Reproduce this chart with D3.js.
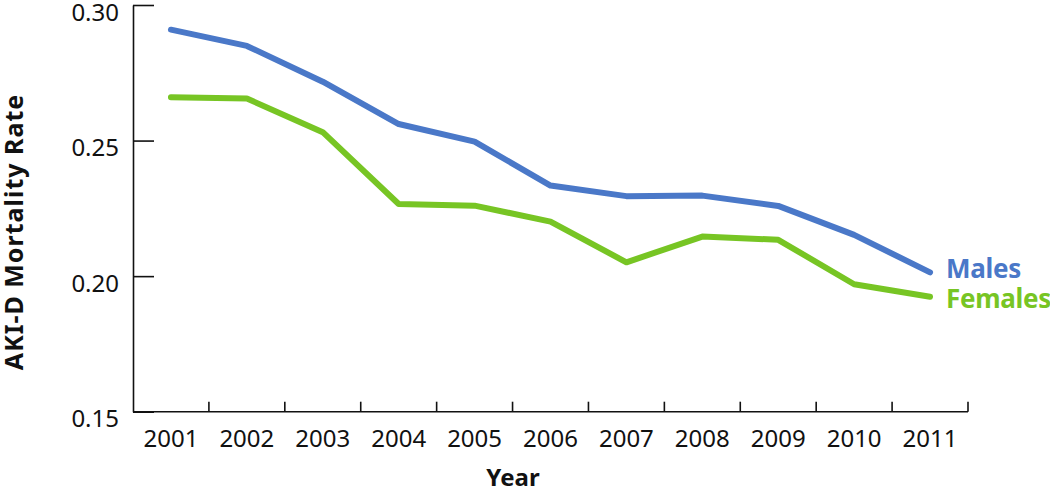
<!DOCTYPE html>
<html>
<head>
<meta charset="utf-8">
<script src="https://cdn.jsdelivr.net/npm/d3@7"></script>
<style>
  body { margin: 0; background: #fff; }
  svg { display: block; font-family: "Noto Sans", "Open Sans", sans-serif; }
</style>
</head>
<body>
<svg width="1050" height="493"></svg>
<script>
// data
var years = ["2001","2002","2003","2004","2005","2006","2007","2008","2009","2010","2011"];
var males = [0.2909, 0.2849, 0.2717, 0.2561, 0.2496, 0.2334, 0.2295, 0.2297, 0.2259, 0.2152, 0.2014];
var females = [0.2660, 0.2655, 0.2531, 0.2266, 0.2260, 0.2201, 0.2051, 0.2146, 0.2134, 0.1970, 0.1924];
var yTicks = [0.15, 0.20, 0.25, 0.30];

var svg = d3.select("svg");

var x = d3.scaleBand()
    .domain(years)
    .range([133, 968]);

var y = d3.scaleLinear()
    .domain([0.15, 0.30])
    .range([411.7, 5]);

// Y AXIS
var yAxis = svg.append("g")
    .attr("transform", "translate(133,0)")
    .call(d3.axisRight(y)
	  .tickValues(yTicks)
	  .tickFormat(d3.format(".2f"))
	  .tickSize(21)
	  .tickSizeOuter(0));
yAxis.select(".domain").attr("stroke", "#111").attr("stroke-width", 1.6);
yAxis.selectAll(".tick line").attr("stroke", "#111").attr("stroke-width", 1.6);
// labels hang just below their tick, as in the original
yAxis.selectAll(".tick text")
    .attr("x", -14)
    .attr("dy", 15)
    .attr("text-anchor", "end")
    .attr("font-size", 24)
    .attr("font-family", "Noto Sans")
    .attr("fill", "#111");

// X AXIS, ticks between the years
var xAxis = svg.append("g")
    .attr("transform", "translate(0,411.7)");
xAxis.append("line")
    .attr("x1", 133).attr("x2", 968)
    .attr("stroke", "#111").attr("stroke-width", 1.6);
xAxis.selectAll(".sep")
    .data(years.slice(1).concat(["end"]))
    .enter().append("line")
    .attr("class", "sep")
    .attr("x1", function(d, i) { return x(years[0]) + (i + 1) * x.step(); })
    .attr("x2", function(d, i) { return x(years[0]) + (i + 1) * x.step(); })
    .attr("y1", 0).attr("y2", -10)
    .attr("stroke", "#111").attr("stroke-width", 1.6);
xAxis.selectAll(".lbl")
    .data(years)
    .enter().append("text")
    .attr("class", "lbl")
    .attr("x", function(d) { return x(d) + x.bandwidth() / 2; })
    .attr("y", 35)
    .attr("text-anchor", "middle")
    .attr("font-size", 24)
    .attr("fill", "#111")
    .text(function(d) { return d; });

// AXIS TITLES
svg.append("text")
    .attr("x", 513).attr("y", 486)
    .attr("text-anchor", "middle")
    .attr("font-size", 24)
    .attr("font-weight", "bold")
    .attr("fill", "#111")
    .text("Year");

svg.append("text")
    .attr("transform", "translate(23,232) rotate(-90)")
    .attr("text-anchor", "middle")
    .attr("font-size", 25)
    .attr("font-weight", "bold")
    .attr("letter-spacing", 1)
    .attr("fill", "#111")
    .text("AKI-D Mortality Rate");

// LINES
var line = d3.line()
    .x(function(d, i) { return x(years[i]) + x.bandwidth() / 2; })
    .y(function(d) { return y(d); });

var series = [
    { name: "Males", values: males, color: "#4a78c8" },
    { name: "Females", values: females, color: "#77c524" }
];

svg.selectAll(".series")
    .data(series)
    .enter().append("path")
    .attr("class", "series")
    .attr("d", function(d) { return line(d.values); })
    .attr("fill", "none")
    .attr("stroke", function(d) { return d.color; })
    .attr("stroke-width", 6)
    .attr("stroke-linecap", "round")
    .attr("stroke-linejoin", "round");

// END LABELS
svg.selectAll(".endlbl")
    .data(series)
    .enter().append("text")
    .attr("class", "endlbl")
    .attr("x", 946)
    .attr("y", function(d, i) { return i == 0 ? 278 : 308; })
    .attr("font-size", 26)
    .attr("font-weight", "bold")
    .attr("letter-spacing", -0.3)
    .attr("fill", function(d) { return d.color; })
    .text(function(d) { return d.name; });
</script>
</body>
</html>
